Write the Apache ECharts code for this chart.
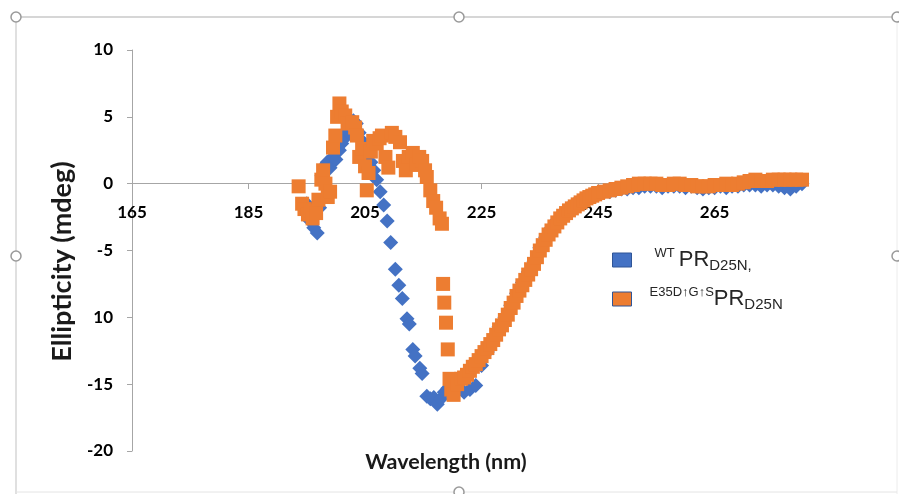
<!DOCTYPE html>
<html>
<head>
<meta charset="utf-8">
<script src="https://cdn.jsdelivr.net/npm/echarts@6/dist/echarts.min.js"></script>
<style>
  html, body { margin: 0; padding: 0; background: #fff; }
  #chart { width: 899px; height: 494px; }
</style>
</head>
<body>
<div id="chart"></div>
<script>
// CD spectra: wild-type vs. mutant protease (D25N background)
const seriesNames = ['WT PR D25N', 'E35D↑G↑S PR D25N'];

const wtWavelength = [
  195.0, 195.6, 196.2, 196.8, 197.2, 197.6, 198.0, 198.5, 199.0, 199.5,
  200.0, 200.6, 201.0, 201.5, 202.0, 202.5, 203.0, 203.5, 204.0, 204.5,
  205.0, 205.5, 206.0, 206.5, 207.0, 207.6, 208.2, 208.8, 209.4, 210.2,
  210.8, 211.4, 212.2, 212.6, 213.2, 213.6, 214.4, 214.8, 215.6, 216.2,
  216.8, 217.4, 218.0, 218.6, 219.2, 219.8, 220.5, 221.2, 222.0, 223.0,
  224, 225, 226, 227, 228, 229, 230, 231, 232, 233,
  234, 235, 236, 237, 238, 239, 240, 241, 242, 243,
  244, 245, 246, 247, 248, 249, 250, 251, 252, 253,
  254, 255, 256, 257, 258, 259, 260, 261, 262, 263,
  264, 265, 266, 267, 268, 269, 270, 271, 272, 273,
  274, 275, 276, 277, 278, 279, 280
];
const wtEllipticity = [
  -1.5, -2.8, -3.3, -3.7, -1.8, 0.6, 1.3, 1.6, 1.2, 2.0,
  1.8, 2.5, 3.0, 3.4, 3.9, 4.3, 4.7, 4.5, 3.8, 3.2,
  2.9, 2.2, 1.6, 1.0, 0.3, -0.6, -1.6, -2.8, -4.4, -6.4,
  -7.6, -8.6, -10.1, -10.5, -12.4, -12.9, -13.8, -14.2, -15.9, -16.1,
  -16.0, -16.5, -16.1, -15.6, -15.3, -15.4, -15.5, -15.4, -15.6, -15.4,
  -15.1, -13.6, -12.6, -11.6, -10.7, -10.0, -9.1, -8.2, -7.4, -6.6,
  -5.8, -4.8, -4.0, -3.3, -2.7, -2.2, -1.8, -1.5, -1.25, -1.0,
  -0.85, -0.7, -0.65, -0.6, -0.5, -0.4, -0.4, -0.3, -0.3, -0.2,
  -0.2, -0.2, -0.3, -0.2, -0.2, -0.2, -0.3, -0.2, -0.3, -0.4,
  -0.3, -0.3, -0.2, -0.3, -0.2, -0.2, -0.1, -0.1, -0.1, -0.2,
  -0.1, -0.1, -0.2, -0.3, -0.4, -0.2, 0.0
];

const mutWavelength = [
  193.6, 194.2, 194.6, 195.2, 195.6, 196.0, 196.6, 197.0, 197.5, 197.8,
  198.2, 198.6, 199.0, 199.5, 199.9, 200.2, 200.6, 201.0, 201.6, 202.0,
  202.8, 203.3, 203.6, 204.0, 204.5, 205.0, 205.3, 205.6, 206.0, 206.4,
  207.0, 207.5, 207.9, 208.5, 209.0, 209.6, 210.2, 211.0, 211.5, 212.0,
  212.5, 213.2, 213.8, 214.3, 214.8, 215.3, 215.6, 216.2, 216.7, 217.2,
  217.8, 218.2, 218.4, 218.6, 218.9, 219.2, 219.5, 219.8, 220.2, 220.8,
  221.5, 222.0, 222.5, 223.0, 223.5, 224.0, 224.5, 225.0, 225.5, 226.0,
  226.5, 227.0, 227.5, 228.0, 228.5, 229.0, 229.5, 230.0, 230.5, 231.0,
  231.5, 232.0, 232.5, 233.0, 233.5, 234.0, 234.5, 235.0, 235.5, 236.0,
  236.5, 237.0, 237.5, 238.0, 238.5, 239.0, 239.5, 240.0, 240.5, 241.0,
  241.5, 242.0, 242.5, 243.0, 243.5, 244.0, 244.5, 245.0, 246, 247,
  248, 249, 250, 251, 252, 253, 254, 255, 256, 257,
  258, 259, 260, 261, 262, 263, 264, 265, 266, 267,
  268, 269, 270, 271, 272, 273, 274, 275, 276, 277,
  278, 279, 280
];
const mutEllipticity = [
  -0.2, -1.5, -1.9, -2.3, -2.0, -2.6, -2.2, -1.2, 0.3, 1.0,
  0.0, -1.0, -0.6, 2.7, 3.6, 5.0, 6.0, 5.4, 5.1, 4.5,
  4.6, 4.2, 3.6, 2.0, 2.6, 1.3, -0.5, 0.8, 2.4, 3.2,
  3.0, 3.4, 3.6, 2.0, 1.2, 3.8, 3.5, 3.1, 1.7, 1.0,
  2.0, 2.3, 1.4, 2.0, 1.7, 1.0, 0.5, -0.5, -1.3, -1.8,
  -2.6, -3.0, -7.5, -8.9, -10.4, -12.4, -14.6, -15.4, -15.8, -15.0,
  -14.6, -14.5, -14.3, -14.0, -13.7, -13.5, -13.2, -12.9, -12.6, -12.3,
  -12.0, -11.7, -11.3, -10.9, -10.6, -10.2, -9.8, -9.3, -8.9, -8.4,
  -8.0, -7.6, -7.2, -6.8, -6.4, -6.0, -5.5, -5.0, -4.6, -4.2,
  -3.8, -3.5, -3.2, -2.9, -2.6, -2.4, -2.2, -2.0, -1.85, -1.7,
  -1.55, -1.4, -1.25, -1.1, -1.0, -0.9, -0.8, -0.7, -0.6, -0.5,
  -0.4, -0.3, -0.2, -0.1, 0.0, 0.0, 0.0, 0.0, -0.1, -0.1,
  0.0, 0.0, -0.1, -0.1, -0.2, -0.2, -0.2, -0.1, -0.1, 0.0,
  -0.1, 0.0, 0.1, 0.2, 0.3, 0.2, 0.2, 0.3, 0.3, 0.3,
  0.3, 0.3, 0.3
];

// Tick labels as printed on the axes
const xTickLabels = { 165: '165', 185: '185', 205: '205', 225: '225', 245: '245', 265: '265' };
const yTickLabels = { '-20': '-20', '-15': '-15', '-10': '10', '-5': '-5', '0': '0', '5': '5', '10': '10' };

const pairs = (xs, ys) => xs.map((x, i) => [x, ys[i]]);

const BLUE = '#4472C4';
const ORANGE = '#ED7D31';
const AXIS_GREY = '#a6a6a6';
const FONT = 'Lato, "Open Sans", sans-serif';
const LEGEND_FONT = '"Liberation Sans", Arial, sans-serif';
const X_MIN = 165, X_MAX = 280;

const chart = echarts.init(document.getElementById('chart'), null, { renderer: 'canvas' });

const legendRich = {
  sup1: { fontFamily: LEGEND_FONT, fontSize: 13, color: '#262626', lineHeight: 13, verticalAlign: 'top', padding: [0, 4, 0, 18] },
  sup2: { fontFamily: LEGEND_FONT, fontSize: 13, color: '#262626', lineHeight: 13, verticalAlign: 'top', padding: [0, 0, 0, 13] },
  main: { fontFamily: LEGEND_FONT, fontSize: 22, color: '#262626', lineHeight: 26 },
  sub: { fontFamily: LEGEND_FONT, fontSize: 15, color: '#262626', lineHeight: 14, verticalAlign: 'bottom' }
};

const frameStroke = '#d6d6d6';
const handle = (x, y) => ({
  type: 'circle', shape: { cx: x, cy: y, r: 5 },
  style: { fill: '#fff', stroke: '#9a9a9a', lineWidth: 1.5 }, z: 10
});

chart.setOption({
  animation: false,
  backgroundColor: '#fff',
  grid: [
    // plotting area
    { left: 132, right: 97, top: 50, bottom: 43, containLabel: false, outerBoundsMode: 'none' },
    // upper part down to y = 0, whose bottom edge carries the wavelength axis
    { left: 132, right: 97, top: 50, bottom: 311, containLabel: false, outerBoundsMode: 'none' }
  ],
  xAxis: [
    {
      gridIndex: 0, type: 'value', min: X_MIN, max: X_MAX, show: false
    },
    {
      gridIndex: 1, type: 'value', min: X_MIN, max: X_MAX, interval: 20,
      name: 'Wavelength (nm)',
      nameLocation: 'middle',
      nameGap: 268,
      nameTextStyle: { fontFamily: FONT, fontWeight: 'bold', fontSize: 21.5, color: '#1a1a1a', padding: [0, 42, 0, 0] },
      axisLine: { onZero: false, lineStyle: { color: AXIS_GREY, width: 1 } },
      axisTick: { show: true, inside: false, length: 6, lineStyle: { color: AXIS_GREY } },
      axisLabel: {
        margin: 21, fontFamily: FONT, fontWeight: 'bold', fontSize: 17, color: '#000',
        showMaxLabel: false,
        formatter: v => xTickLabels[v] || ''
      },
      splitLine: { show: false }
    }
  ],
  yAxis: [
    {
      gridIndex: 0, type: 'value',
      min: -20, max: 10, interval: 5,
      name: 'Ellipticity (mdeg)',
      nameLocation: 'middle',
      nameRotate: 90,
      nameGap: 56,
      nameTextStyle: { fontFamily: FONT, fontWeight: 'bold', fontSize: 27, color: '#1a1a1a', padding: [0, 22, 0, 0] },
      axisLine: { show: true, onZero: false, lineStyle: { color: AXIS_GREY, width: 1 } },
      axisTick: { show: true, inside: false, length: 5, lineStyle: { color: AXIS_GREY } },
      axisLabel: {
        margin: 19, fontFamily: FONT, fontWeight: 'bold', fontSize: 17, color: '#000',
        formatter: v => yTickLabels[String(v)] || ''
      },
      splitLine: { show: false }
    },
    {
      gridIndex: 1, type: 'value', min: 0, max: 10, show: false
    }
  ],
  legend: {
    orient: 'vertical',
    left: 607, top: 242,
    itemWidth: 19, itemHeight: 14,
    itemGap: 13,
    icon: 'rect',
    selectedMode: false,
    data: [
      { name: seriesNames[0], itemStyle: { color: BLUE, borderColor: '#2F5597', borderWidth: 1 } },
      { name: seriesNames[1], itemStyle: { color: ORANGE, borderColor: '#2F5597', borderWidth: 1 } }
    ],
    formatter: name => name === seriesNames[0]
      ? '{sup1|WT}{main|PR}{sub|D25N,}'
      : '{sup2|E35D↑G↑S}{main|PR}{sub|D25N}',
    textStyle: { rich: legendRich }
  },
  graphic: [
    { type: 'line', shape: { x1: 16, y1: 17, x2: 897, y2: 17 }, style: { stroke: frameStroke, lineWidth: 2 }, z: 9 },
    { type: 'line', shape: { x1: 16, y1: 17, x2: 16, y2: 494 }, style: { stroke: frameStroke, lineWidth: 1.5 }, z: 9 },
    { type: 'line', shape: { x1: 897, y1: 17, x2: 897, y2: 494 }, style: { stroke: '#ececec', lineWidth: 1 }, z: 9 },
    { type: 'line', shape: { x1: 16, y1: 492, x2: 897, y2: 492 }, style: { stroke: '#e4e4e4', lineWidth: 1 }, z: 9 },
    handle(16, 17), handle(459, 17), handle(897, 17),
    handle(16, 256), handle(897, 256), handle(459, 492)
  ],
  series: [
    {
      name: seriesNames[0],
      type: 'scatter',
      xAxisIndex: 0, yAxisIndex: 0,
      symbol: 'diamond',
      symbolSize: 15,
      itemStyle: { color: BLUE, opacity: 1 },
      data: pairs(wtWavelength, wtEllipticity),
      z: 2
    },
    {
      name: seriesNames[1],
      type: 'scatter',
      xAxisIndex: 0, yAxisIndex: 0,
      symbol: 'rect',
      symbolSize: 14,
      itemStyle: { color: ORANGE, opacity: 1 },
      data: pairs(mutWavelength, mutEllipticity),
      z: 3
    }
  ]
});
</script>
</body>
</html>
